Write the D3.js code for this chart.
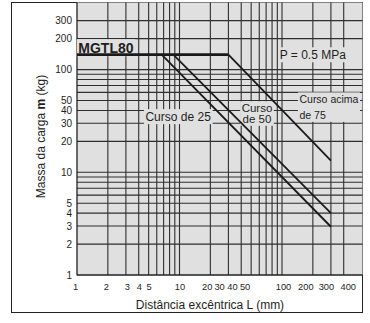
<!DOCTYPE html>
<html>
<head>
<meta charset="utf-8">
<script src="https://cdn.jsdelivr.net/npm/d3@7"></script>
<style>
	html, body { margin: 0; padding: 0; background: #fff; }
	svg { display: block; font-family: "Liberation Sans", Arial, sans-serif; }
</style>
</head>
<body>
<svg id="main-svg" width="370" height="323"></svg>
<script>

	// tick labels
	var xTickLabels = [ 1, 2, 3, 4, 5, 10, 20, 30, 40, 50, 100, 200, 300, 400 ],
		yTickLabels = [ 1, 2, 3, 4, 5, 10, 20, 30, 40, 50, 100, 200, 300 ];

	// grid lines
	var xGrid = [ 2, 3, 4, 5, 6, 7, 8, 9, 10, 20, 30, 40, 50, 60, 70, 80, 90, 100, 200, 300, 400 ],
		yGrid = [ 2, 3, 4, 5, 6, 7, 8, 9, 10, 20, 30, 40, 50, 60, 70, 80, 90, 100, 200, 300 ];

	// series: L (mm) -> m (kg)
	var maxLoad = [ { L: 1, m: 140 }, { L: 30, m: 140 } ],
		cursoAcima75 = [ { L: 30, m: 140 }, { L: 300, m: 13 } ],
		curso50 = [ { L: 8.7, m: 140 }, { L: 300, m: 4 } ],
		curso25 = [ { L: 6.7, m: 140 }, { L: 300, m: 2.95 } ];

	var svg = d3.select( 'svg#main-svg' ),
		plot = { left: 77, right: 362.5, top: 2.5, bottom: 275 },
		gridColor = '#2e2e2e',
		textColor = '#1e1e1e';

	var x = d3.scaleLog().domain( [ 1, 610 ] ).range( [ plot.left, plot.right ] ),
		y = d3.scaleLog().domain( [ 1, 450 ] ).range( [ plot.bottom, plot.top ] );

	// outer frame
	svg.append( 'rect' )
		.attr( 'x', 11.5 ).attr( 'y', 2.5 )
		.attr( 'width', 351 ).attr( 'height', 310 )
		.attr( 'fill', '#fff' )
		.attr( 'stroke', '#222' )
		.attr( 'stroke-width', 1 );

	svg.append( 'rect' )
		.attr( 'x', plot.left ).attr( 'y', plot.top )
		.attr( 'width', plot.right - plot.left ).attr( 'height', plot.bottom - plot.top )
		.attr( 'fill', '#e0e0e0' );

	var grid = svg.append( 'g' )
		.attr( 'stroke', gridColor )
		.attr( 'stroke-width', 1.1 );

	grid.selectAll( 'line.gx' )
		.data( xGrid )
		.enter().append( 'line' )
		.attr( 'class', 'gx' )
		.attr( 'x1', function( d ) { return x( d ); } )
		.attr( 'x2', function( d ) { return x( d ); } )
		.attr( 'y1', plot.top )
		.attr( 'y2', plot.bottom );

	grid.selectAll( 'line.gy' )
		.data( yGrid )
		.enter().append( 'line' )
		.attr( 'class', 'gy' )
		.attr( 'y1', function( d ) { return y( d ); } )
		.attr( 'y2', function( d ) { return y( d ); } )
		.attr( 'x1', plot.left )
		.attr( 'x2', plot.right );

	// plot edges
	svg.append( 'line' )
		.attr( 'x1', plot.left ).attr( 'x2', plot.left )
		.attr( 'y1', plot.top ).attr( 'y2', plot.bottom + 0.5 )
		.attr( 'stroke', '#222' ).attr( 'stroke-width', 1.3 );
	svg.append( 'line' )
		.attr( 'x1', plot.left ).attr( 'x2', plot.right )
		.attr( 'y1', plot.bottom ).attr( 'y2', plot.bottom )
		.attr( 'stroke', '#222' ).attr( 'stroke-width', 1.5 );

	// axes labels through d3 axes, domain and ticks hidden
	var xAxis = svg.append( 'g' )
		.attr( 'transform', 'translate(0,' + ( plot.bottom + 5 ) + ')' )
		.call( d3.axisBottom( x ).tickValues( xTickLabels ).tickFormat( d3.format( 'd' ) ).tickSize( 0 ) );

	var yAxis = svg.append( 'g' )
		.attr( 'transform', 'translate(' + ( plot.left - 5 ) + ',0)' )
		.call( d3.axisLeft( y ).tickValues( yTickLabels ).tickFormat( d3.format( 'd' ) ).tickSize( 0 ) );

	[ xAxis, yAxis ].forEach( function( a ) {
		a.select( '.domain' ).remove();
		a.selectAll( 'text' )
			.attr( 'fill', textColor )
			.style( 'font-size', '10px' )
			.style( 'font-family', '"Liberation Sans", Arial, sans-serif' );
	} );
	yAxis.selectAll( 'text' ).attr( 'x', 0 );

	// crowded labels are set smaller and nudged sideways like in the printed chart
	var nudge = { 1: -2, 2: -2, 3: 1, 20: -3.7, 30: -9.3, 40: -9.3, 50: -6.6, 100: 1, 200: -7.5, 300: -5, 400: 4 };
	xAxis.selectAll( 'text' )
		.style( 'font-size', '9.3px' )
		.attr( 'x', function( d ) { return nudge[ d ] || 0; } );

	// text labels with grey boxes masking the grid
	function boxedText( lines, L, m, anchor, size, weight, lineHeight ) {
		var g = svg.append( 'g' ),
			rect = g.append( 'rect' ).attr( 'fill', '#e0e0e0' ),
			text = g.append( 'text' )
				.attr( 'x', x( L ) )
				.attr( 'y', y( m ) )
				.attr( 'text-anchor', anchor )
				.attr( 'fill', textColor )
				.style( 'font-size', size + 'px' )
				.style( 'font-weight', weight || 'normal' );

		lines.forEach( function( t, i ) {
			text.append( 'tspan' )
				.attr( 'x', x( L ) )
				.attr( 'dy', i === 0 ? '0.35em' : lineHeight )
				.text( t );
		} );

		var b = text.node().getBBox();
		rect.attr( 'x', b.x - 1.5 ).attr( 'y', b.y - 0.5 )
			.attr( 'width', b.width + 3 ).attr( 'height', b.height + 1 );
		return g;
	}

	boxedText( [ 'MGTL80' ], 1.03, 163, 'start', 14, 'bold' );
	boxedText( [ 'P = 0.5 MPa' ], 95, 140, 'start', 12 );
	boxedText( [ 'Curso de 25' ], 9.7, 35, 'middle', 12 );
	boxedText( [ 'Curso', 'de 50' ], 57, 42.5, 'middle', 11.5, null, 11.5 );
	boxedText( [ 'Curso acima', 'de 75' ], 148, 51.5, 'start', 10.5, null, 16.5 );

	// curves
	var line = d3.line()
		.x( function( d ) { return x( d.L ); } )
		.y( function( d ) { return y( d.m ); } );

	[ cursoAcima75, curso50, curso25 ].forEach( function( s ) {
		svg.append( 'path' )
			.datum( s )
			.attr( 'd', line )
			.attr( 'fill', 'none' )
			.attr( 'stroke', '#1a1a1a' )
			.attr( 'stroke-width', 1.8 );
	} );

	svg.append( 'path' )
		.datum( maxLoad )
		.attr( 'd', line )
		.attr( 'fill', 'none' )
		.attr( 'stroke', '#1a1a1a' )
		.attr( 'stroke-width', 2.6 );

	// axis titles
	var yTitle = svg.append( 'text' )
		.attr( 'transform', 'translate(45,136.5) rotate(-90)' )
		.attr( 'text-anchor', 'middle' )
		.attr( 'fill', textColor )
		.style( 'font-size', '12px' );
	yTitle.append( 'tspan' ).text( 'Massa da carga ' );
	yTitle.append( 'tspan' ).style( 'font-weight', 'bold' ).text( 'm' );
	yTitle.append( 'tspan' ).text( ' (kg)' );

	svg.append( 'text' )
		.attr( 'x', 210 )
		.attr( 'y', 309 )
		.attr( 'text-anchor', 'middle' )
		.attr( 'fill', textColor )
		.style( 'font-size', '12px' )
		.text( 'Distância excêntrica L (mm)' );

</script>
</body>
</html>
